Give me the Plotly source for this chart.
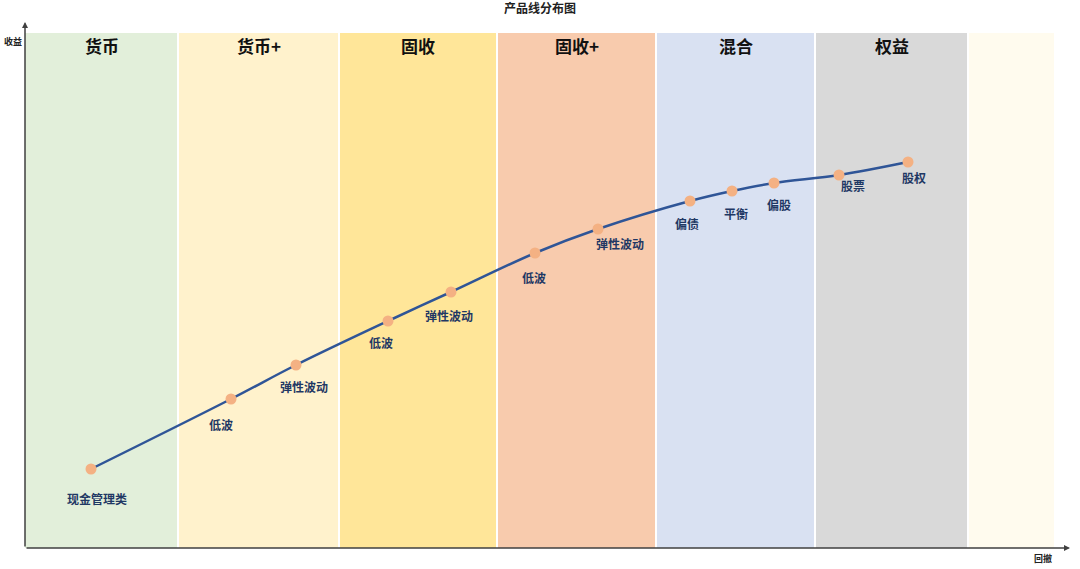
import plotly.graph_objects as go

# Categories (bands)
band_names = ["货币", "货币+", "固收", "固收+", "混合", "权益", ""]
band_edges = [0, 153, 314, 472, 631, 790, 943, 1030]
band_colors = ["#E2EFDA", "#FFF2CC", "#FFE699", "#F8CBAD", "#D9E1F2", "#D9D9D9", "#FFFBEE"]

# Products (drawdown on x, return on y)
product_names = ["现金管理类", "低波", "弹性波动", "低波", "弹性波动", "低波", "弹性波动",
                 "偏债", "平衡", "偏股", "股票", "股权"]
drawdown = [66, 206, 271, 363, 426, 510, 573, 665, 707, 749, 814, 883]
returns = [79, 149, 183, 227, 256, 295, 319, 347, 357, 365, 373, 386]

# label offsets in pixels (style)
label_dx = [6, -10, 8, -7, -2, -1, 22, -3, 4, 5, 14, 6]
label_dy = [-29, -25, -21, -21, -23, -24, -14, -22, -22, -21, -10, -15]

X_MAX, Y_MAX, BAND_TOP = 1045, 526, 515
FONT = "Noto Sans CJK SC"

fig = go.Figure()

shapes = []
annotations = []
for i, name in enumerate(band_names):
    x0 = band_edges[i] + (1 if i > 0 else 0)
    x1 = band_edges[i + 1] - 1
    shapes.append(dict(type="rect", xref="x", yref="y", x0=x0, x1=x1, y0=0, y1=BAND_TOP,
                       fillcolor=band_colors[i], line=dict(width=0), layer="below"))
    if name:
        annotations.append(dict(x=(band_edges[i] + band_edges[i + 1]) / 2, y=BAND_TOP - 12,
                                xref="x", yref="y", text="<b>" + name + "</b>", showarrow=False,
                                font=dict(family=FONT, size=17, color="#111111")))

fig.add_trace(go.Scatter(x=drawdown, y=returns, mode="lines+markers",
                         line=dict(color="#2F5597", width=2.5, shape="spline", smoothing=1.0),
                         marker=dict(color="#F4B183", size=11), hoverinfo="skip"))

for n, x, y, dx, dy in zip(product_names, drawdown, returns, label_dx, label_dy):
    annotations.append(dict(x=x, y=y, xref="x", yref="y", text="<b>" + n + "</b>", showarrow=False,
                            xshift=dx, yshift=dy, font=dict(family=FONT, size=12, color="#1F3864")))

# Axis arrows
annotations.append(dict(x=0, y=Y_MAX, ax=0, ay=0, xref="x", yref="y", axref="x", ayref="y",
                        text="", showarrow=True, arrowhead=2, arrowsize=0.8, arrowwidth=1.5,
                        arrowcolor="#404040"))
annotations.append(dict(x=X_MAX, y=0, ax=0, ay=0, xref="x", yref="y", axref="x", ayref="y",
                        text="", showarrow=True, arrowhead=2, arrowsize=0.8, arrowwidth=1.5,
                        arrowcolor="#404040"))
annotations.append(dict(x=0, y=BAND_TOP / Y_MAX, xref="paper", yref="paper", xanchor="right",
                        yanchor="middle", xshift=-1, yshift=-8, text="<b>收益</b>", showarrow=False,
                        font=dict(family=FONT, size=9, color="#222222")))
annotations.append(dict(x=(X_MAX - 16) / X_MAX, y=0, xref="paper", yref="paper", xanchor="right",
                        yanchor="top", yshift=-2, text="<b>回撤</b>", showarrow=False,
                        font=dict(family=FONT, size=9, color="#222222")))

fig.update_layout(
    width=1080, height=569,
    margin=dict(l=25, r=10, t=22, b=21),
    plot_bgcolor="white", paper_bgcolor="white",
    showlegend=False,
    title=dict(text="<b>产品线分布图</b>", x=0.5, xanchor="center", y=0.985, yanchor="middle",
               font=dict(family=FONT, size=12, color="#222222")),
    xaxis=dict(range=[0, X_MAX], visible=False, fixedrange=True),
    yaxis=dict(range=[0, Y_MAX], visible=False, fixedrange=True),
    shapes=shapes, annotations=annotations,
)

fig.write_html("out.html", config={"displayModeBar": False},
               post_script="document.body.style.margin='0';document.body.style.overflow='hidden';")
